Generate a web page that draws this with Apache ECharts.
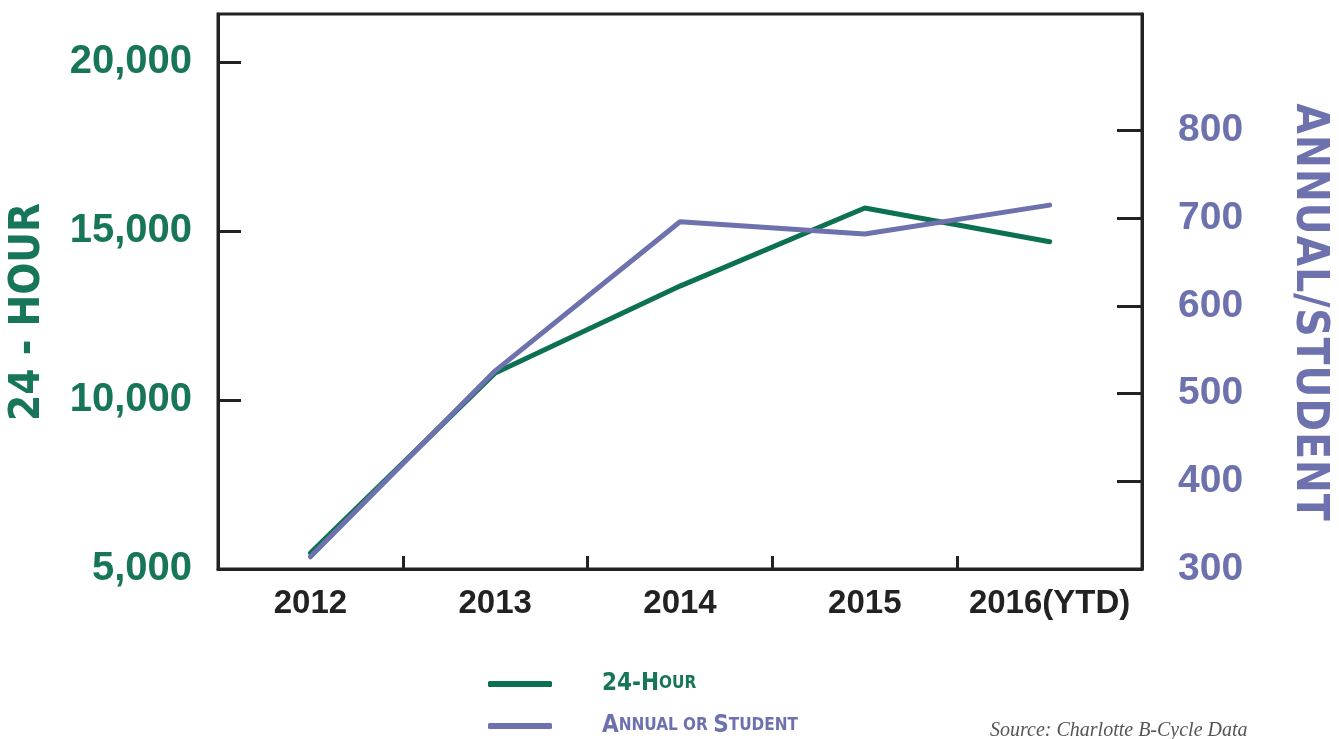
<!DOCTYPE html>
<html>
<head>
<meta charset="utf-8">
<script src="https://cdn.jsdelivr.net/npm/echarts@6/dist/echarts.min.js"></script>
<style>
  html, body { margin: 0; padding: 0; background: #fff; }
  #main { width: 1339px; height: 739px; }
</style>
</head>
<body>
<div id="main"></div>
<script>
  var years = ['2012', '2013', '2014', '2015', '2016(YTD)'];
  var dayPass = [5470, 10800, 13370, 15680, 14680];
  var annualPass = [314, 526, 696, 682, 715];
  var leftTicks = [5000, 10000, 15000, 20000];
  var rightTicks = [300, 400, 500, 600, 700, 800];

  var green = '#0c7152';
  var greenText = '#177559';
  var purple = '#6d71ad';
  var ink = '#222';
  var narrow = '"Liberation Sans Narrow", "DejaVu Sans Condensed", sans-serif';
  var sans = '"Liberation Sans", Arial, sans-serif';

  // letter spaced text via rich tokens
  function spaced(str) {
    return str.split('').map(function (c) { return '{c|' + c + '}'; }).join('');
  }

  var legendRich = {
    p: { width: 45 },
    g: { color: greenText, fontFamily: narrow, fontWeight: 'bold', fontSize: 24 },
    gs: { color: greenText, fontFamily: narrow, fontWeight: 'bold', fontSize: 17 },
    v: { color: purple, fontFamily: narrow, fontWeight: 'bold', fontSize: 24 },
    vs: { color: purple, fontFamily: narrow, fontWeight: 'bold', fontSize: 17 }
  };

  function legendAt(name, top, text) {
    return {
      left: 488, top: top, padding: 0,
      icon: 'roundRect',
      itemWidth: 64, itemHeight: 6,
      selectedMode: false,
      data: [name],
      formatter: function () { return text; },
      textStyle: { rich: legendRich }
    };
  }

  var chart = echarts.init(document.getElementById('main'));

  chart.setOption({
    animation: false,
    grid: {
      left: 218, top: 14, width: 924, height: 555,
      show: true, borderColor: ink, borderWidth: 3
    },
    legend: [
      legendAt('24-Hour', 672, '{p| }{g|24-H}{gs|OUR}'),
      legendAt('Annual or Student', 714, '{p| }{v|A}{vs|NNUAL OR }{v|S}{vs|TUDENT}')
    ],
    xAxis: {
      type: 'category',
      data: years,
      boundaryGap: true,
      axisLine: { show: true, lineStyle: { color: ink, width: 3 } },
      axisTick: { show: true, inside: true, alignWithLabel: false, interval: 0, length: 13,
        lineStyle: { color: ink, width: 3 } },
      axisLabel: {
        interval: 0, margin: 18, color: ink, fontFamily: sans, fontWeight: 'bold', fontSize: 33
      }
    },
    yAxis: [{
      type: 'value',
      position: 'left',
      min: 5000, max: 21420,
      splitLine: { show: false },
      axisLine: { show: true, lineStyle: { color: ink, width: 3 } },
      axisTick: { show: true, inside: true, length: 23, customValues: leftTicks,
        lineStyle: { color: ink, width: 3 } },
      axisLabel: {
        customValues: leftTicks, margin: 26, color: greenText,
        fontFamily: sans, fontWeight: 'bold', fontSize: 40,
        formatter: function (v) { return v.toLocaleString('en-US'); }
      }
    }, {
      type: 'value',
      position: 'right',
      min: 300, max: 933,
      splitLine: { show: false },
      axisLine: { show: true, lineStyle: { color: ink, width: 3 } },
      axisTick: { show: true, inside: true, length: 25, customValues: rightTicks,
        lineStyle: { color: ink, width: 3 } },
      axisLabel: {
        customValues: rightTicks, margin: 36, color: purple,
        fontFamily: sans, fontWeight: 'bold', fontSize: 39
      }
    }],
    graphic: [{
      type: 'text',
      x: 28, y: 312, rotation: Math.PI / 2,
      style: {
        text: spaced('24 - HOUR'),
        align: 'center', verticalAlign: 'middle',
        rich: { c: { fill: greenText, fontFamily: narrow, fontWeight: 'bold', fontSize: 42 } }
      }
    }, {
      type: 'text',
      x: 1308, y: 312, rotation: -Math.PI / 2,
      style: {
        text: spaced('ANNUAL/STUDENT'),
        align: 'center', verticalAlign: 'middle',
        rich: { c: { fill: purple, fontFamily: narrow, fontWeight: 'bold', fontSize: 44, padding: [0, 0.4, 0, 0.4] } }
      }
    }, {
      type: 'text',
      left: 990, top: 721,
      style: {
        text: 'Source: Charlotte B-Cycle Data',
        fill: '#555', font: 'italic 20px "Liberation Serif", serif'
      }
    }],
    series: [{
      name: '24-Hour',
      type: 'line',
      yAxisIndex: 0,
      data: dayPass,
      symbol: 'none',
      color: green,
      lineStyle: { width: 5, color: green, cap: 'round', join: 'round' }
    }, {
      name: 'Annual or Student',
      type: 'line',
      yAxisIndex: 1,
      data: annualPass,
      symbol: 'none',
      color: purple,
      lineStyle: { width: 5, color: purple, cap: 'round', join: 'round' }
    }]
  });
</script>
</body>
</html>
